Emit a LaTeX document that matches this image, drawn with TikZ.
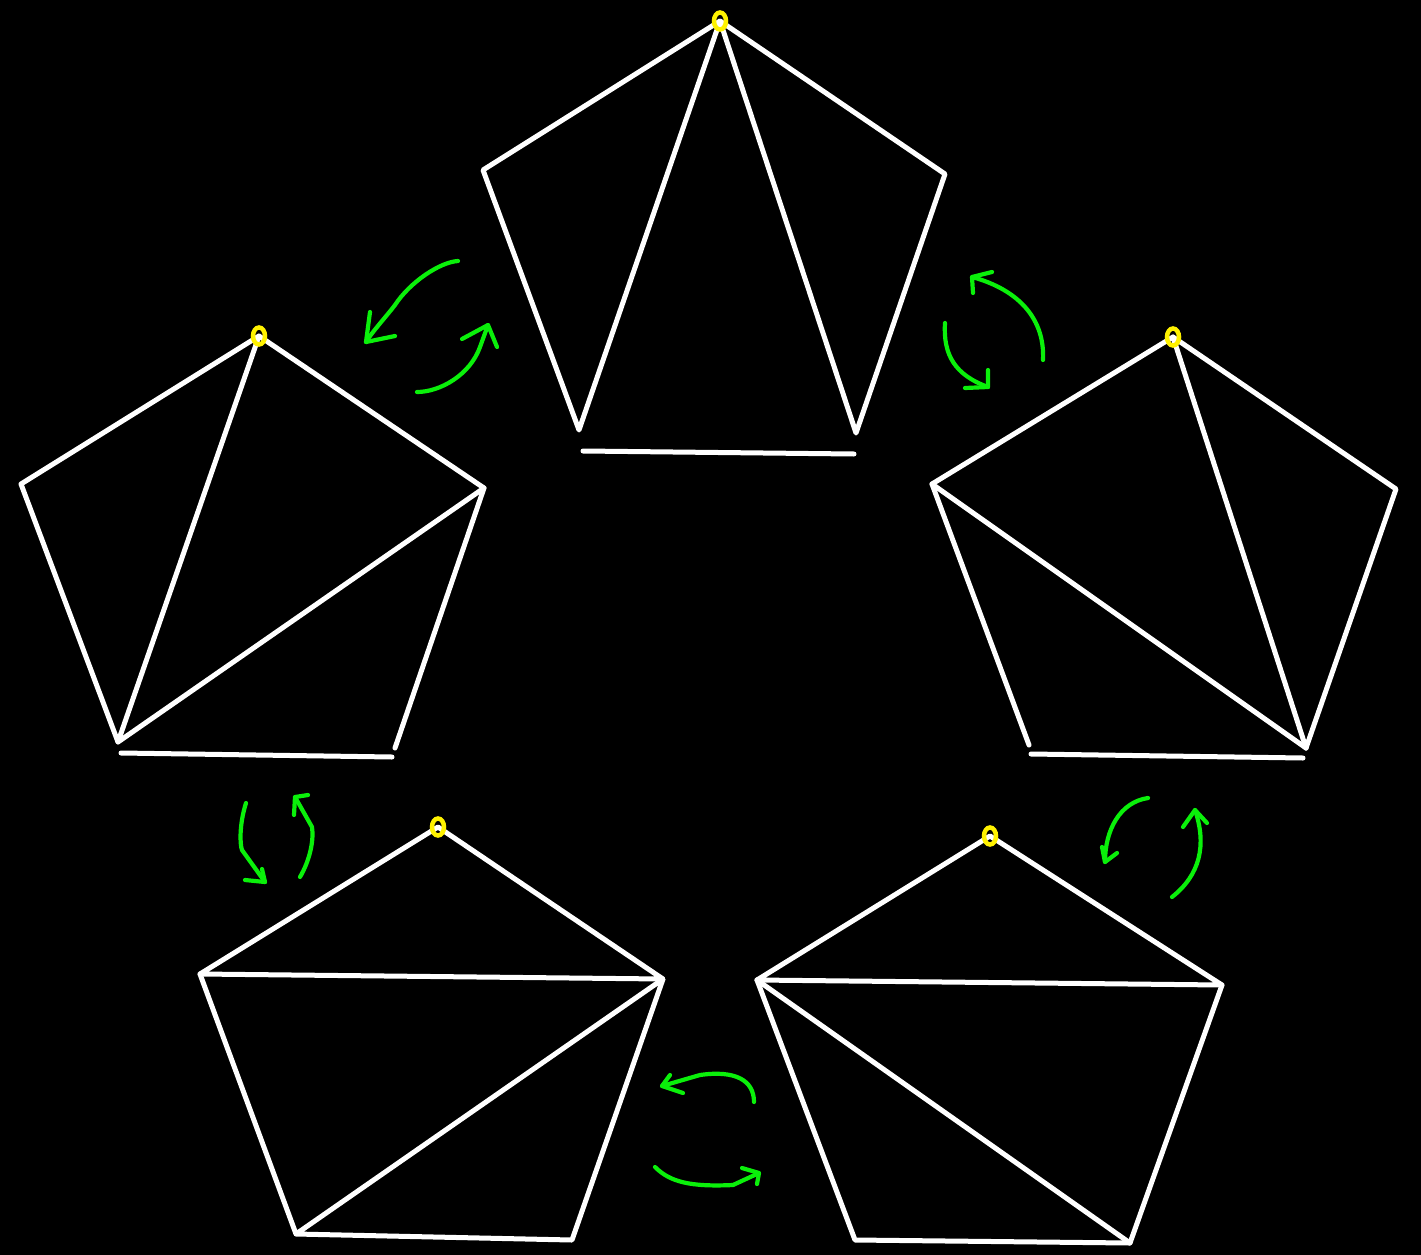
\documentclass[tikz,border=0pt]{standalone}
\usetikzlibrary{calc}
\begin{document}
\begin{tikzpicture}[x=1pt,y=-1pt,
  edge/.style={white,line width=5pt,line cap=round,line join=round},
  vtx/.style={yellow,line width=4.5pt}]
\definecolor{flipgreen}{RGB}{10,240,10}
\fill[black] (0,0) rectangle (1421,1255);
\useasboundingbox (0,0) rectangle (1421,1255);
\tikzset{flipc/.style={draw=flipgreen,line width=4.2pt,line cap=round,line join=round}}
% ---------- top pentagon ----------
\coordinate (a1) at (720,21);
\coordinate (b1) at (483,170);
\coordinate (c1) at (579,430);
\coordinate (d1) at (856,433);
\coordinate (e1) at (945,174);
\draw[edge] (a1)--(b1)--(c1)--cycle;
\draw[edge] (a1)--(e1)--(d1)--cycle;
\coordinate (f1) at (583,451); \coordinate (g1) at (854,454);
\draw[edge] (f1)--(g1);
\draw[vtx] (a1) ellipse (6pt and 8.5pt);
% ---------- left pentagon ----------
\coordinate (a2) at (259,336);
\coordinate (b2) at (21,484);
\coordinate (c2) at (118,742);
\coordinate (e2) at (484,488);
\coordinate (d2) at (395,748);
\draw[edge] (a2)--(b2)--(c2)--cycle;
\draw[edge] (a2)--(e2)--(c2);
\draw[edge] (e2)--(d2);
\coordinate (f2) at (121,753); \coordinate (g2) at (392,757);
\draw[edge] (f2)--(g2);
\draw[vtx] (a2) ellipse (6pt and 8.5pt);
% ---------- right pentagon ----------
\coordinate (a3) at (1173,337);
\coordinate (b3) at (932,484);
\coordinate (c3) at (1029,745);
\coordinate (d3) at (1306,748);
\coordinate (e3) at (1396,489);
\draw[edge] (c3)--(b3)--(a3)--(d3);
\draw[edge] (b3)--(d3);
\draw[edge] (a3)--(e3)--(d3);
\coordinate (f3) at (1031,754); \coordinate (g3) at (1303,758);
\draw[edge] (f3)--(g3);
\draw[vtx] (a3) ellipse (6pt and 8.5pt);
% ---------- bottom-left pentagon ----------
\coordinate (a4) at (438,827);
\coordinate (b4) at (200,974);
\coordinate (c4) at (296,1234);
\coordinate (d4) at (572,1240);
\coordinate (e4) at (663,979);
\draw[edge] (a4)--(b4)--(e4)--cycle;
\draw[edge] (b4)--(c4)--(e4)--(d4)--(c4);
\draw[vtx] (a4) ellipse (6pt and 8.5pt);
% ---------- bottom-right pentagon ----------
\coordinate (a5) at (990,836);
\coordinate (b5) at (757,980);
\coordinate (c5) at (855,1240);
\coordinate (d5) at (1130,1243);
\coordinate (e5) at (1222,985);
\draw[edge] (a5)--(b5)--(e5)--cycle;
\draw[edge] (b5)--(c5)--(d5)--(e5);
\draw[edge] (b5)--(d5);
\draw[vtx] (a5) ellipse (6pt and 8.5pt);
% ---------- green flip arrows ----------
% top-left pair
\draw[flipc] (458,261) .. controls (440,262) and (410,282) .. (395,305) .. controls (385,318) and (372,332) .. (366,342);
\draw[flipc] (370,312) -- (366,342) -- (395,336);
\draw[flipc] (417,392) .. controls (440,392) and (470,375) .. (480,347) -- (488,325);
\draw[flipc] (462,339) -- (488,325) -- (497,347);
% top-right pair
\draw[flipc] (1043,360) .. controls (1045,320) and (1020,290) .. (972,277);
\draw[flipc] (992,272) -- (972,277) -- (973,293);
\draw[flipc] (945,323) .. controls (943,355) and (955,375) .. (988,387);
\draw[flipc] (988,370) -- (988,387) -- (965,388);
% left-bottom pair
\draw[flipc] (246,803) .. controls (239,825) and (240,845) .. (242,850) -- (265,882);
\draw[flipc] (245,880) -- (265,882) -- (262,869);
\draw[flipc] (300,877) .. controls (310,860) and (314,840) .. (312,827) -- (295,797);
\draw[flipc] (308,795) -- (295,797) -- (294,815);
% right-bottom pair
\draw[flipc] (1148,798) .. controls (1120,802) and (1105,830) .. (1105,862);
\draw[flipc] (1102,847) -- (1105,862) -- (1117,853);
\draw[flipc] (1172,897) .. controls (1200,875) and (1207,845) .. (1195,810);
\draw[flipc] (1183,827) -- (1195,810) -- (1207,823);
% bottom pair
\draw[flipc] (754,1102) .. controls (754,1080) and (735,1070) .. (700,1075) -- (662,1086);
\draw[flipc] (670,1075) -- (662,1086) -- (683,1093);
\draw[flipc] (655,1167) .. controls (670,1182) and (690,1187) .. (733,1185) -- (759,1173);
\draw[flipc] (742,1168) -- (759,1173) -- (757,1184);
\end{tikzpicture}
\end{document}
